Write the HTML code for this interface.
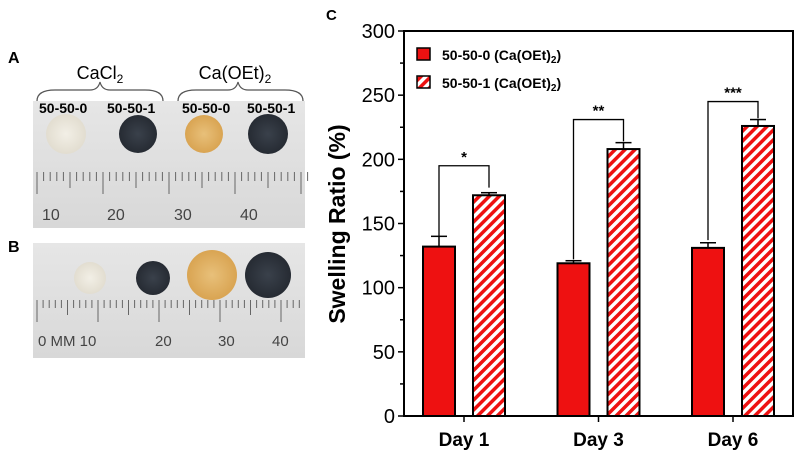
<!DOCTYPE html>
<html><head><meta charset="utf-8"><style>
html,body{margin:0;padding:0;background:#fff;width:799px;height:456px;overflow:hidden;font-family:"Liberation Sans",Arial,sans-serif}
</style></head><body>
<svg width="799" height="456" viewBox="0 0 799 456" style="position:absolute;left:0;top:0">
<defs>
<pattern id="hatch" patternUnits="userSpaceOnUse" width="7" height="7" patternTransform="rotate(45)">
<rect width="7" height="7" fill="#fff"/><rect width="3.5" height="7" fill="#ee1111"/>
</pattern>
<radialGradient id="g1"><stop offset="0" stop-color="#f2efe6"/><stop offset="1" stop-color="#e2ddd0"/></radialGradient>
<radialGradient id="g2"><stop offset="0" stop-color="#3a414b"/><stop offset="1" stop-color="#262b33"/></radialGradient>
<radialGradient id="g3"><stop offset="0" stop-color="#e8c07a"/><stop offset="1" stop-color="#d9a452"/></radialGradient>
<linearGradient id="bg" x1="0" y1="0" x2="0" y2="1"><stop offset="0" stop-color="#e6e6e6"/><stop offset="1" stop-color="#d8d8d8"/></linearGradient>
</defs>

<!-- Panel A -->
<g>
<text x="8" y="63" font-size="16" font-weight="bold">A</text>
<text x="100" y="79" font-size="18" text-anchor="middle">CaCl<tspan font-size="12" dy="4">2</tspan></text>
<text x="235" y="79" font-size="18" text-anchor="middle">Ca(OEt)<tspan font-size="12" dy="4">2</tspan></text>
<path d="M37 101 Q37 90 55 90 L90 90 Q98 90 100 82 Q102 90 110 90 L145 90 Q163 90 163 101" fill="none" stroke="#555" stroke-width="1.2"/>
<path d="M178 101 Q178 90 196 90 L228 90 Q236 90 238 82 Q240 90 248 90 L285 90 Q303 90 303 101" fill="none" stroke="#555" stroke-width="1.2"/>
<rect x="33" y="101" width="272" height="127" fill="url(#bg)"/>
<circle cx="66" cy="134" r="20" fill="url(#g1)"/>
<circle cx="138" cy="134" r="19" fill="url(#g2)"/>
<circle cx="204" cy="134" r="19" fill="url(#g3)"/>
<circle cx="268" cy="134" r="20" fill="url(#g2)"/>
<text x="39" y="113" font-size="14" font-weight="bold">50-50-0</text>
<text x="107" y="113" font-size="14" font-weight="bold">50-50-1</text>
<text x="182" y="113" font-size="14" font-weight="bold">50-50-0</text>
<text x="247" y="113" font-size="14" font-weight="bold">50-50-1</text>
<g id="rulerA" stroke="#666" stroke-width="1"></g>
<text x="42" y="220" font-size="16" fill="#444">10</text>
<text x="107" y="220" font-size="16" fill="#444">20</text>
<text x="174" y="220" font-size="16" fill="#444">30</text>
<text x="240" y="220" font-size="16" fill="#444">40</text>
</g>

<!-- Panel B -->
<g>
<text x="8" y="252" font-size="16" font-weight="bold">B</text>
<rect x="33" y="243" width="272" height="115" fill="url(#bg)"/>
<circle cx="90" cy="278" r="16" fill="url(#g1)"/>
<circle cx="153" cy="278" r="17" fill="url(#g2)"/>
<circle cx="212" cy="275" r="25" fill="url(#g3)"/>
<circle cx="268" cy="275" r="23" fill="url(#g2)"/>
<g id="rulerB" stroke="#666" stroke-width="1"></g>
<text x="38" y="346" font-size="15" fill="#444">0  MM 10</text>
<text x="155" y="346" font-size="15" fill="#444">20</text>
<text x="218" y="346" font-size="15" fill="#444">30</text>
<text x="272" y="346" font-size="15" fill="#444">40</text>
</g>

<!-- Panel C -->
<g id="chart">
<text x="326" y="20" font-size="15" font-weight="bold">C</text>
<text transform="translate(345,224) rotate(-90)" font-size="23" font-weight="bold" text-anchor="middle">Swelling Ratio (%)</text>
<g id="axes"></g>
<g id="bars"></g>
<g>
<rect x="417" y="48" width="13" height="12" fill="#ee1111" stroke="#000" stroke-width="1.5"/>
<text x="442" y="60" font-size="14" font-weight="bold">50-50-0 (Ca(OEt)<tspan font-size="10" dy="3">2</tspan><tspan dy="-3">)</tspan></text>
<rect x="417" y="76" width="13" height="12" fill="url(#hatch)" stroke="#000" stroke-width="1.5"/>
<text x="442" y="88" font-size="14" font-weight="bold">50-50-1 (Ca(OEt)<tspan font-size="10" dy="3">2</tspan><tspan dy="-3">)</tspan></text>
</g>
</g>
</svg>
<script>
const categories = ["Day 1","Day 3","Day 6"];
const series0 = [132,119,131];
const err0 = [8,2,4];
const series1 = [172,208,226];
const err1 = [2,5,5];
const sigLabels = ["*","**","***"];
const sigTop = [195,231,245];
const sigLeft = [140,122,137];
const sigRight = [178,214,232];
const yTicks = [0,50,100,150,200,250,300];

const NS="http://www.w3.org/2000/svg";
function mk(tag,attrs,parent){const e=document.createElementNS(NS,tag);for(const k in attrs)e.setAttribute(k,attrs[k]);parent.appendChild(e);return e;}
const X0=404,X1=793,Y0=416,Y1=31,YMAX=300;
const y=v=>Y0-(v/YMAX)*(Y0-Y1);
const cx=i=>464+i*134.5;

const rA=document.getElementById('rulerA');
for(let i=0;i<42;i++){const x=37+i*6.6;const h=i%10===0?22:(i%5===0?16:9);mk('line',{x1:x,y1:172,x2:x,y2:172+h},rA);}
const rB=document.getElementById('rulerB');
for(let i=0;i<44;i++){const x=37+i*6.1;const h=i%10===0?22:(i%5===0?15:8);mk('line',{x1:x,y1:300,x2:x,y2:300+h},rB);}

const ax=document.getElementById('axes');
let f=mk('rect',{x:X0,y:Y1,width:X1-X0,height:Y0-Y1,fill:'none',stroke:'#000','stroke-width':2},ax);


for(let v=0;v<=300;v+=25){mk('line',{x1:X0-(v%50===0?6:4),y1:y(v),x2:X0,y2:y(v),stroke:'#000','stroke-width':1.5},ax);}
yTicks.forEach(v=>{const t=mk('text',{x:X0-9,y:y(v)+7,'font-size':20,'text-anchor':'end'},ax);t.textContent=v;

});
categories.forEach((c,i)=>{mk('line',{x1:cx(i),y1:Y0,x2:cx(i),y2:Y0+6,stroke:'#000','stroke-width':1.5},ax);
const t=mk('text',{x:cx(i),y:446,'font-size':19,'font-weight':'bold','text-anchor':'middle'},ax);t.textContent=c;

});

const g=document.getElementById('bars');
function bar(i,off,v,e,fill,name){
 const xl=cx(i)+off;
 mk('line',{x1:xl+16,y1:y(v),x2:xl+16,y2:y(v+e),stroke:'#000','stroke-width':1.5},g);
 mk('line',{x1:xl+8,y1:y(v+e),x2:xl+24,y2:y(v+e),stroke:'#000','stroke-width':1.5},g);
 const r=mk('rect',{x:xl,y:y(v),width:32,height:Y0-y(v),fill:fill,stroke:'#000','stroke-width':2},g);
 
 
}
categories.forEach((c,i)=>{
 bar(i,-41,series0[i],err0[i],'#ee1111','bar-50-50-0-day'+(i+1));
 bar(i,9,series1[i],err1[i],'url(#hatch)','bar-50-50-1-day'+(i+1));
 const lx=cx(i)-25, rx=cx(i)+25;
 const p=mk('path',{d:`M${lx} ${y(sigLeft[i])} L${lx} ${y(sigTop[i])} L${rx} ${y(sigTop[i])} L${rx} ${y(sigRight[i])}`,fill:'none',stroke:'#000','stroke-width':1.3},g);
 
 
 const t=mk('text',{x:cx(i),y:y(sigTop[i])-4,'font-size':15,'font-weight':'bold','text-anchor':'middle'},g);t.textContent=sigLabels[i];
 
 
});
</script>
</body></html>
